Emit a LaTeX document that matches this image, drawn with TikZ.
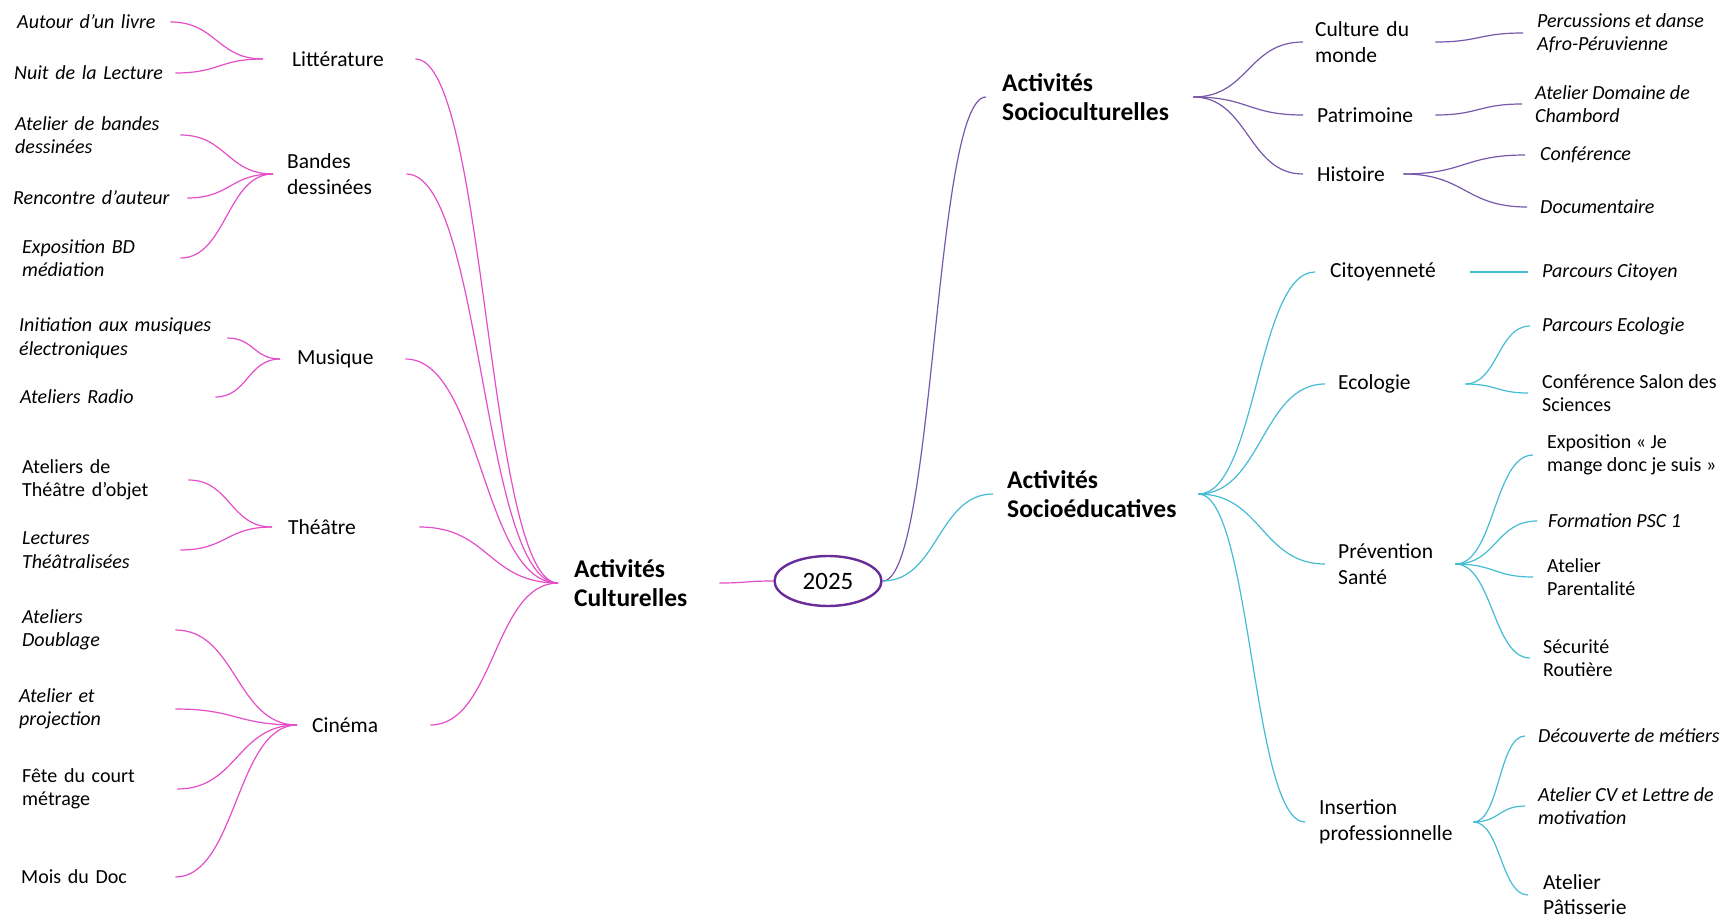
\documentclass[tikz,border=0pt]{standalone}
\usepackage{fontspec}
\setmainfont{Carlito}
\usetikzlibrary{shapes.geometric}
\definecolor{pk}{RGB}{228,78,200}
\definecolor{pu}{RGB}{120,88,170}
\definecolor{cy}{RGB}{68,188,212}
\definecolor{ell}{RGB}{104,44,152}
\tikzset{
  lf/.style={anchor=west, inner sep=0pt, align=left, font=\fontsize{20}{23.5}\selectfont},
  lfi/.style={lf, font=\fontsize{20}{23.5}\selectfont\itshape},
  md/.style={anchor=west, inner ysep=0pt, align=left, font=\fontsize{21.5}{25.5}\selectfont},
  hd/.style={anchor=west, inner ysep=0pt, align=left, font=\fontsize{25.5}{28.5}\selectfont\bfseries},
  rl/.style={anchor=west, inner ysep=0pt, align=left, font=\fontsize{20}{23.5}\selectfont},
  rli/.style={rl, font=\fontsize{20}{23.5}\selectfont\itshape},
  pkc/.style={draw=pk, line width=1.2pt},
  puc/.style={draw=pu, line width=1.2pt},
  cyc/.style={draw=cy, line width=1.2pt},
  yearbox/.style={ellipse, draw=ell, line width=2.4pt, minimum width=107pt, minimum height=50pt, inner sep=0pt, font=\fontsize{25}{28}\selectfont}
}
\begin{document}
\begin{tikzpicture}[x=1pt,y=-1pt]
\fill[white] (0,0) rectangle (1727,918);
\useasboundingbox (0,0) rectangle (1727,918);

% ---- left leaves
\node[lfi, text width=153pt] (aut) at (17,22) {Autour d’un livre};
\node[lfi, text width=161pt] (nuit) at (14,73) {Nuit de la Lecture};
\node[lfi, text width=165pt] (abd) at (15,135) {Atelier de bandes\\dessinées};
\node[lfi, text width=174pt] (renc) at (13,198) {Rencontre d’auteur};
\node[lfi, text width=158pt] (expo) at (22,258) {Exposition BD\\médiation};
\node[lfi, text width=208pt] (init) at (19,338) {Initiation aux musiques\\électroniques};
\node[lfi, text width=195pt] (radio) at (20,397) {Ateliers Radio};
\node[lf, text width=166pt] (ato) at (22,480) {Ateliers de\\Théâtre d’objet};
\node[lfi, text width=158pt] (lect) at (22,550) {Lectures\\Théâtralisées};
\node[lfi, text width=153pt] (doub) at (22,630) {Ateliers\\Doublage};
\node[lfi, text width=156pt] (proj) at (19,709) {Atelier et\\projection};
\node[lf, text width=155pt] (fete) at (22,789) {Fête du court\\métrage};
\node[lf, text width=154pt] (mois) at (21,877) {Mois du Doc};

% ---- left branches
\node[md, inner xsep=29pt, text width=94pt] (lit) at (263,59) {Littérature};
\node[md, inner xsep=14pt, text width=105pt] (bd) at (273,174) {Bandes\\dessinées};
\node[md, inner xsep=17pt, text width=91pt] (mus) at (280,359) {Musique};
\node[md, inner xsep=16pt, text width=115pt] (the) at (272,527) {Théâtre};
\node[md, inner xsep=15pt, text width=103pt] (cin) at (297,725) {Cinéma};

% ---- heads
\node[hd, inner xsep=16pt, text width=129pt] (cul) at (558,583) {Activités\\Culturelles};
\node[yearbox] (yr) at (828,581) {2025};
\node[hd, inner xsep=16pt, text width=175pt] (soc) at (986,97) {Activités\\Socioculturelles};
\node[hd, inner xsep=14pt, text width=177pt] (edu) at (993,494) {Activités\\Socioéducatives};

% ---- right branches
\node[md, inner xsep=12pt, text width=108pt] (cdm) at (1303,42) {Culture du\\monde};
\node[md, inner xsep=14pt, text width=104pt] (pat) at (1303,115) {Patrimoine};
\node[md, inner xsep=14pt, text width=72pt] (his) at (1303,174) {Histoire};
\node[md, inner xsep=15pt, text width=125pt] (cit) at (1315,272) {Citoyenneté};
\node[md, inner xsep=13pt, text width=114pt] (eco) at (1325,384) {Ecologie};
\node[md, inner xsep=13pt, text width=104pt] (pre) at (1325,564) {Prévention\\Santé};
\node[md, inner xsep=14pt, text width=140pt] (ins) at (1305,822) {Insertion\\professionnelle};

% ---- right leaves
\node[rli, inner xsep=14pt] (per) at (1523,33) {Percussions et danse\\Afro-Péruvienne};
\node[rli, inner xsep=13pt] (cha) at (1522,104) {Atelier Domaine de\\Chambord};
\node[rli, inner xsep=15pt] (conf) at (1525,155) {Conférence};
\node[rli, inner xsep=13pt] (doc) at (1527,207) {Documentaire};
\node[rli, inner xsep=14pt] (pcit) at (1528,272) {Parcours Citoyen};
\node[rli, inner xsep=12pt] (peco) at (1530,326) {Parcours Ecologie};
\node[rl, inner xsep=14pt] (csal) at (1528,393) {Conférence Salon des\\Sciences};
\node[rl, inner xsep=14pt] (expj) at (1533,455) {Exposition «~Je\\mange donc je suis~»};
\node[rli, inner xsep=11pt] (psc) at (1537,521) {Formation PSC 1};
\node[rl, inner xsep=14pt] (par) at (1533,577) {Atelier\\Parentalité};
\node[rl, inner xsep=13pt] (sec) at (1530,658) {Sécurité\\Routière};
\node[rli, inner xsep=13pt] (dec) at (1525,736) {Découverte de métiers};
\node[rli, inner xsep=13pt] (cv) at (1525,806) {Atelier CV et Lettre de\\motivation};
\node[rl, inner xsep=15pt, font=\fontsize{21.5}{25}\selectfont] (pat2) at (1528,895) {Atelier\\Pâtisserie};

% ---- connectors: left leaves
\draw[pkc] (aut.east) .. controls +(46,0) and +(-46,0) .. (lit.west);
\draw[pkc] (nuit.east) .. controls +(44,0) and +(-44,0) .. (lit.west);
\draw[pkc] (abd.east) .. controls +(46,0) and +(-46,0) .. (bd.west);
\draw[pkc] (renc.east) .. controls +(43,0) and +(-43,0) .. (bd.west);
\draw[pkc] (expo.east) .. controls +(46,0) and +(-46,0) .. (bd.west);
\draw[pkc] (init.east) .. controls +(26,0) and +(-26,0) .. (mus.west);
\draw[pkc] (radio.east) .. controls +(32,0) and +(-32,0) .. (mus.west);
\draw[pkc] (ato.east) .. controls +(42,0) and +(-42,0) .. (the.west);
\draw[pkc] (lect.east) .. controls +(46,0) and +(-46,0) .. (the.west);
\draw[pkc] (doub.east) .. controls +(61,0) and +(-61,0) .. (cin.west);
\draw[pkc] (proj.east) .. controls +(61,0) and +(-61,0) .. (cin.west);
\draw[pkc] (fete.east) .. controls +(60,0) and +(-60,0) .. (cin.west);
\draw[pkc] (mois.east) .. controls +(61,0) and +(-61,0) .. (cin.west);

% ---- connectors: left branches to head
\draw[pkc] (lit.east) .. controls +(71,0) and +(-71,0) .. (cul.west);
\draw[pkc] (bd.east) .. controls +(76,0) and +(-76,0) .. (cul.west);
\draw[pkc] (mus.east) .. controls +(76,0) and +(-76,0) .. (cul.west);
\draw[pkc] (the.east) .. controls +(70,0) and +(-70,0) .. (cul.west);
\draw[pkc] (cin.east) .. controls +(64,0) and +(-64,0) .. (cul.west);
\draw[pkc] (cul.east) .. controls +(27,0) and +(-27,0) .. (yr.west);

% ---- centre to right heads
\draw[puc] (yr.east) .. controls +(52,0) and +(-52,0) .. (soc.west);
\draw[cyc] (yr.east) .. controls +(55,0) and +(-55,0) .. (edu.west);

% ---- socioculturelles
\draw[puc] (soc.east) .. controls +(55,0) and +(-55,0) .. (cdm.west);
\draw[puc] (soc.east) .. controls +(55,0) and +(-55,0) .. (pat.west);
\draw[puc] (soc.east) .. controls +(55,0) and +(-55,0) .. (his.west);
\draw[puc] (cdm.east) .. controls +(44,0) and +(-44,0) .. (per.west);
\draw[puc] (pat.east) .. controls +(43,0) and +(-43,0) .. (cha.west);
\draw[puc] (his.east) .. controls +(61,0) and +(-61,0) .. (conf.west);
\draw[puc] (his.east) .. controls +(62,0) and +(-62,0) .. (doc.west);

% ---- socioeducatives
\draw[cyc] (edu.east) .. controls +(58,0) and +(-58,0) .. (cit.west);
\draw[cyc] (edu.east) .. controls +(63,0) and +(-63,0) .. (eco.west);
\draw[cyc] (edu.east) .. controls +(63,0) and +(-63,0) .. (pre.west);
\draw[cyc] (edu.east) .. controls +(53,0) and +(-53,0) .. (ins.west);
\draw[cyc] (cit.east) -- (pcit.west);
\draw[cyc] (eco.east) .. controls +(32,0) and +(-32,0) .. (peco.west);
\draw[cyc] (eco.east) .. controls +(31,0) and +(-31,0) .. (csal.west);
\draw[cyc] (pre.east) .. controls +(39,0) and +(-39,0) .. (expj.west);
\draw[cyc] (pre.east) .. controls +(41,0) and +(-41,0) .. (psc.west);
\draw[cyc] (pre.east) .. controls +(39,0) and +(-39,0) .. (par.west);
\draw[cyc] (pre.east) .. controls +(37,0) and +(-37,0) .. (sec.west);
\draw[cyc] (ins.east) .. controls +(26,0) and +(-26,0) .. (dec.west);
\draw[cyc] (ins.east) .. controls +(26,0) and +(-26,0) .. (cv.west);
\draw[cyc] (ins.east) .. controls +(27,0) and +(-27,0) .. (pat2.west);
\end{tikzpicture}
\end{document}
